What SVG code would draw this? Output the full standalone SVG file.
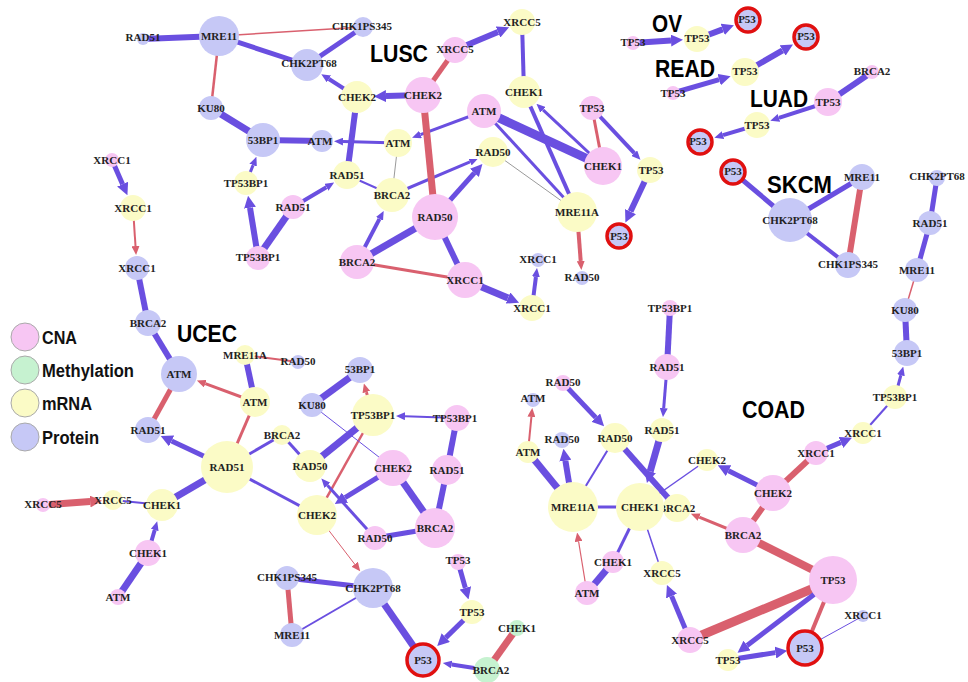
<svg xmlns="http://www.w3.org/2000/svg" width="968" height="682" viewBox="0 0 968 682">
<style>
.b{stroke:#6a4fe0;fill:none}
.r{stroke:#d9606e;fill:none}
.g{stroke:#9a9a9a;fill:none}
.C{fill:#f7c6f3}
.M{fill:#fbfbc6}
.P{fill:#c6c8f6}
.Me{fill:#c6f2d0}
.ring{stroke:#e01010;stroke-width:3.5}
.l{font-family:"Liberation Serif",serif;font-weight:bold;font-size:11px;fill:#222;text-anchor:middle}
.t{font-family:"Liberation Sans",Arial,sans-serif;font-weight:bold;font-size:24px;fill:#000}
.lg{font-family:"Liberation Sans",Arial,sans-serif;font-weight:bold;font-size:18px;fill:#111}
.lc{stroke:#aaa;stroke-width:1}
</style>
<defs>
<marker id="ab" markerUnits="userSpaceOnUse" markerWidth="9" markerHeight="8" refX="0" refY="4" orient="auto"><path d="M0,0L9,4L0,8z" fill="#6a4fe0"/></marker>
<marker id="abL" markerUnits="userSpaceOnUse" markerWidth="12" markerHeight="12" refX="0" refY="6" orient="auto"><path d="M0,0L12,6L0,12z" fill="#6a4fe0"/></marker>
<marker id="ar" markerUnits="userSpaceOnUse" markerWidth="9" markerHeight="8" refX="0" refY="4" orient="auto"><path d="M0,0L9,4L0,8z" fill="#d9606e"/></marker>
<marker id="arL" markerUnits="userSpaceOnUse" markerWidth="12" markerHeight="12" refX="0" refY="6" orient="auto"><path d="M0,0L12,6L0,12z" fill="#d9606e"/></marker>
</defs>
<rect width="968" height="682" fill="#fff"/>

<g id="connectors">
<!-- LUSC -->
<line x1="143" y1="39" x2="219" y2="36" class="b" stroke-width="6"/>
<line x1="219" y1="36" x2="363" y2="27" class="r" stroke-width="1.5"/>
<line x1="219" y1="36" x2="307" y2="65" class="b" stroke-width="5"/>
<line x1="307" y1="65" x2="363" y2="27" class="b" stroke-width="5"/>
<line x1="357" y1="97" x2="328.9" y2="79" class="b" stroke-width="4" marker-end="url(#ab)"/>
<line x1="219" y1="36" x2="211" y2="108" class="r" stroke-width="2.5"/>
<line x1="211" y1="108" x2="263" y2="140" class="b" stroke-width="7"/>
<line x1="263" y1="140" x2="322" y2="141" class="b" stroke-width="6"/>
<line x1="398" y1="143" x2="343" y2="141.6" class="b" stroke-width="3" marker-end="url(#ab)"/>
<line x1="246" y1="183" x2="253.1" y2="165.1" class="b" stroke-width="3" marker-end="url(#ab)"/>
<line x1="258" y1="257" x2="250" y2="207.7" class="b" stroke-width="6" marker-end="url(#abL)"/>
<line x1="258" y1="257" x2="293" y2="207" class="b" stroke-width="7"/>
<line x1="293" y1="207" x2="326.4" y2="187.2" class="b" stroke-width="4" marker-end="url(#ab)"/>
<line x1="423" y1="95" x2="386" y2="96.1" class="b" stroke-width="6" marker-end="url(#abL)"/>
<line x1="357" y1="97" x2="347" y2="175" class="b" stroke-width="6"/>
<line x1="347" y1="175" x2="392" y2="195" class="b" stroke-width="2"/>
<line x1="398" y1="143" x2="392" y2="195" class="g" stroke-width="1"/>
<line x1="484" y1="111" x2="420.5" y2="134.6" class="b" stroke-width="3" marker-end="url(#ab)"/>
<line x1="392" y1="195" x2="470" y2="161.8" class="b" stroke-width="3" marker-end="url(#ab)"/>
<line x1="423" y1="95" x2="435" y2="217" class="r" stroke-width="7"/>
<line x1="435" y1="217" x2="474.4" y2="172.9" class="b" stroke-width="5" marker-end="url(#abL)"/>
<line x1="357" y1="262" x2="379.5" y2="218.9" class="b" stroke-width="4" marker-end="url(#ab)"/>
<line x1="357" y1="262" x2="435" y2="217" class="b" stroke-width="7"/>
<line x1="357" y1="262" x2="465" y2="280" class="r" stroke-width="3"/>
<line x1="435" y1="217" x2="465" y2="280" class="b" stroke-width="6"/>
<line x1="465" y1="280" x2="508" y2="298" class="b" stroke-width="7" marker-end="url(#abL)"/>
<line x1="532" y1="308" x2="535.9" y2="276.9" class="b" stroke-width="4" marker-end="url(#ab)"/>
<line x1="455" y1="50" x2="423" y2="95" class="r" stroke-width="5"/>
<line x1="455" y1="50" x2="498" y2="32" class="b" stroke-width="6" marker-end="url(#abL)"/>
<line x1="522" y1="22" x2="524" y2="92" class="b" stroke-width="4"/>
<line x1="484" y1="111" x2="603" y2="166" class="b" stroke-width="9"/>
<line x1="603" y1="166" x2="543" y2="109.8" class="b" stroke-width="3" marker-end="url(#ab)"/>
<line x1="524" y1="92" x2="577" y2="212" class="b" stroke-width="4"/>
<line x1="484" y1="111" x2="577" y2="212" class="b" stroke-width="3"/>
<line x1="493" y1="152" x2="577" y2="212" class="g" stroke-width="1"/>
<line x1="577" y1="212" x2="580.7" y2="261" class="r" stroke-width="4" marker-end="url(#ar)"/>
<line x1="592" y1="108" x2="603" y2="166" class="r" stroke-width="3"/>
<line x1="592" y1="108" x2="634.3" y2="153.2" class="b" stroke-width="4" marker-end="url(#ab)"/>
<line x1="650" y1="170" x2="630.5" y2="211.6" class="b" stroke-width="6" marker-end="url(#abL)"/>
<!-- OV READ LUAD SKCM -->
<line x1="633" y1="43" x2="671" y2="40.6" class="b" stroke-width="6" marker-end="url(#abL)"/>
<line x1="697" y1="39" x2="722.7" y2="29.4" class="b" stroke-width="6" marker-end="url(#abL)"/>
<line x1="673" y1="93" x2="719.1" y2="79.6" class="b" stroke-width="5" marker-end="url(#abL)"/>
<line x1="745" y1="72" x2="782.6" y2="50.4" class="b" stroke-width="6" marker-end="url(#abL)"/>
<line x1="872" y1="72" x2="828" y2="102" class="b" stroke-width="6"/>
<line x1="828" y1="102" x2="778.9" y2="117.9" class="b" stroke-width="4" marker-end="url(#ab)"/>
<line x1="757" y1="125" x2="723" y2="135.1" class="b" stroke-width="4" marker-end="url(#ab)"/>
<line x1="790" y1="220" x2="733" y2="172" class="b" stroke-width="5"/>
<line x1="790" y1="220" x2="862" y2="177" class="b" stroke-width="5"/>
<line x1="790" y1="220" x2="848" y2="265" class="b" stroke-width="4"/>
<line x1="862" y1="177" x2="848" y2="265" class="r" stroke-width="6"/>
<!-- COAD -->
<line x1="937" y1="178" x2="930" y2="223" class="b" stroke-width="5"/>
<line x1="930" y1="223" x2="917" y2="270" class="b" stroke-width="5"/>
<line x1="917" y1="270" x2="905" y2="310" class="r" stroke-width="1.5"/>
<line x1="905" y1="310" x2="907" y2="353" class="b" stroke-width="6"/>
<line x1="895" y1="397" x2="900.9" y2="375.2" class="b" stroke-width="3" marker-end="url(#ab)"/>
<line x1="863" y1="433" x2="895" y2="397" class="b" stroke-width="2"/>
<line x1="816" y1="453" x2="840.9" y2="442.4" class="b" stroke-width="5" marker-end="url(#abL)"/>
<line x1="816" y1="453" x2="773" y2="493" class="r" stroke-width="6"/>
<line x1="773" y1="493" x2="728.5" y2="470.7" class="b" stroke-width="5" marker-end="url(#abL)"/>
<line x1="773" y1="493" x2="743" y2="535" class="r" stroke-width="6"/>
<line x1="743" y1="535" x2="699.2" y2="517.1" class="r" stroke-width="3" marker-end="url(#ar)"/>
<line x1="743" y1="535" x2="833" y2="580" class="r" stroke-width="8"/>
<line x1="833" y1="580" x2="690" y2="640" class="r" stroke-width="9"/>
<line x1="690" y1="640" x2="671.6" y2="596.1" class="b" stroke-width="5" marker-end="url(#abL)"/>
<line x1="640" y1="507" x2="662" y2="573" class="b" stroke-width="1.5"/>
<line x1="833" y1="580" x2="747.1" y2="645.5" class="b" stroke-width="5" marker-end="url(#abL)"/>
<line x1="728" y1="660" x2="775.4" y2="652.6" class="b" stroke-width="5" marker-end="url(#abL)"/>
<line x1="833" y1="580" x2="805" y2="648" class="r" stroke-width="4"/>
<line x1="863" y1="616" x2="805" y2="648" class="b" stroke-width="1"/>
<line x1="670" y1="308" x2="667" y2="367" class="b" stroke-width="6"/>
<line x1="667" y1="367" x2="663.7" y2="408.1" class="b" stroke-width="3" marker-end="url(#ab)"/>
<line x1="662" y1="430" x2="650.2" y2="471.4" class="b" stroke-width="7" marker-end="url(#abL)"/>
<line x1="563" y1="383" x2="595.8" y2="417.6" class="b" stroke-width="5" marker-end="url(#abL)"/>
<line x1="615" y1="438" x2="677" y2="508" class="b" stroke-width="6"/>
<line x1="615" y1="438" x2="573" y2="507" class="b" stroke-width="2"/>
<line x1="707" y1="460" x2="640" y2="507" class="b" stroke-width="1.5"/>
<line x1="573" y1="507" x2="640" y2="507" class="b" stroke-width="3"/>
<line x1="528" y1="452" x2="531.4" y2="416.9" class="r" stroke-width="2" marker-end="url(#ar)"/>
<line x1="528" y1="452" x2="573" y2="507" class="b" stroke-width="7"/>
<line x1="573" y1="507" x2="565.4" y2="460.7" class="b" stroke-width="6" marker-end="url(#abL)"/>
<line x1="613" y1="562" x2="640" y2="507" class="b" stroke-width="3"/>
<line x1="587" y1="593" x2="613" y2="562" class="b" stroke-width="7"/>
<line x1="587" y1="593" x2="578.6" y2="541.5" class="r" stroke-width="1.2" marker-end="url(#ar)"/>
<!-- UCEC -->
<line x1="112" y1="160" x2="122.6" y2="184.2" class="b" stroke-width="5" marker-end="url(#abL)"/>
<line x1="133" y1="208" x2="135.5" y2="246" class="r" stroke-width="2" marker-end="url(#ar)"/>
<line x1="137" y1="268" x2="148" y2="323" class="b" stroke-width="6"/>
<line x1="148" y1="323" x2="179" y2="374" class="b" stroke-width="6"/>
<line x1="255" y1="402" x2="205.3" y2="383.7" class="r" stroke-width="3" marker-end="url(#ar)"/>
<line x1="179" y1="374" x2="148" y2="430" class="r" stroke-width="5"/>
<line x1="245" y1="355" x2="298" y2="362" class="r" stroke-width="2"/>
<line x1="245" y1="355" x2="255" y2="402" class="b" stroke-width="6"/>
<line x1="255" y1="402" x2="227" y2="467" class="r" stroke-width="3"/>
<line x1="227" y1="467" x2="171.6" y2="441" class="b" stroke-width="5" marker-end="url(#abL)"/>
<line x1="227" y1="467" x2="282" y2="435" class="b" stroke-width="3"/>
<line x1="282" y1="435" x2="310" y2="466" class="b" stroke-width="3"/>
<line x1="227" y1="467" x2="317" y2="515" class="b" stroke-width="3"/>
<line x1="227" y1="467" x2="162" y2="505" class="b" stroke-width="7"/>
<line x1="162" y1="505" x2="113" y2="500" class="b" stroke-width="2"/>
<line x1="43" y1="505" x2="90.1" y2="501.6" class="r" stroke-width="7" marker-end="url(#arL)"/>
<line x1="148" y1="553" x2="154.7" y2="530" class="b" stroke-width="4" marker-end="url(#ab)"/>
<line x1="118" y1="597" x2="148" y2="553" class="b" stroke-width="7"/>
<line x1="312" y1="405" x2="360" y2="370" class="b" stroke-width="7"/>
<line x1="373" y1="415" x2="366.4" y2="392.1" class="r" stroke-width="3" marker-end="url(#ar)"/>
<line x1="457" y1="418" x2="405" y2="416.2" class="b" stroke-width="2" marker-end="url(#ab)"/>
<line x1="457" y1="418" x2="447" y2="470" class="b" stroke-width="6"/>
<line x1="447" y1="470" x2="435" y2="528" class="b" stroke-width="6"/>
<line x1="393" y1="468" x2="435" y2="528" class="b" stroke-width="7"/>
<line x1="393" y1="468" x2="345" y2="497.6" class="b" stroke-width="5" marker-end="url(#abL)"/>
<line x1="310" y1="466" x2="373" y2="415" class="b" stroke-width="7"/>
<line x1="373" y1="415" x2="317" y2="515" class="r" stroke-width="2.5"/>
<line x1="312" y1="405" x2="393" y2="468" class="b" stroke-width="1"/>
<line x1="375" y1="538" x2="327.4" y2="485.3" class="b" stroke-width="3" marker-end="url(#ab)"/>
<line x1="375" y1="538" x2="435" y2="528" class="b" stroke-width="5"/>
<line x1="317" y1="515" x2="354.7" y2="564.2" class="r" stroke-width="1" marker-end="url(#ar)"/>
<line x1="287" y1="578" x2="373" y2="588" class="b" stroke-width="5"/>
<line x1="287" y1="578" x2="292" y2="635" class="r" stroke-width="5"/>
<line x1="292" y1="635" x2="373" y2="588" class="b" stroke-width="2"/>
<line x1="373" y1="588" x2="423" y2="660" class="b" stroke-width="7"/>
<line x1="458" y1="562" x2="465.3" y2="587.9" class="b" stroke-width="5" marker-end="url(#abL)"/>
<line x1="472" y1="612" x2="445.8" y2="637.6" class="b" stroke-width="5" marker-end="url(#abL)"/>
<line x1="487" y1="670" x2="451.7" y2="664.5" class="b" stroke-width="4" marker-end="url(#ab)"/>
<line x1="517" y1="628" x2="487" y2="670" class="r" stroke-width="7"/>
</g>

<g id="nodes">
<!-- LUSC -->
<g id="lusc-rad51-p"><circle class="P" cx="143" cy="39" r="6"/><text class="l" x="143" y="41">RAD51</text></g>
<g id="lusc-mre11-p"><circle class="P" cx="219" cy="36" r="20"/><text class="l" x="219" y="40">MRE11</text></g>
<g id="lusc-chk2pt68-p"><circle class="P" cx="307" cy="65" r="16"/><text class="l" x="309" y="67">CHK2PT68</text></g>
<g id="lusc-chk1ps345-p"><circle class="P" cx="363" cy="27" r="10"/><text class="l" x="362" y="30">CHK1PS345</text></g>
<g id="lusc-ku80-p"><circle class="P" cx="211" cy="108" r="12"/><text class="l" x="211" y="112">KU80</text></g>
<g id="lusc-53bp1-p"><circle class="P" cx="263" cy="140" r="17"/><text class="l" x="263" y="144">53BP1</text></g>
<g id="lusc-atm-p"><circle class="P" cx="322" cy="141" r="11"/><text class="l" x="320" y="145">ATM</text></g>
<g id="lusc-tp53bp1-m"><circle class="M" cx="246" cy="183" r="12"/><text class="l" x="246" y="187">TP53BP1</text></g>
<g id="lusc-rad51-c"><circle class="C" cx="293" cy="207" r="12"/><text class="l" x="293" y="211">RAD51</text></g>
<g id="lusc-tp53bp1-c"><circle class="C" cx="258" cy="258" r="12"/><text class="l" x="258" y="261">TP53BP1</text></g>
<g id="lusc-rad51-m"><circle class="M" cx="347" cy="175" r="14"/><text class="l" x="347" y="179">RAD51</text></g>
<g id="lusc-chek2-m"><circle class="M" cx="357" cy="97" r="16"/><text class="l" x="357" y="101">CHEK2</text></g>
<g id="lusc-chek2-c"><circle class="C" cx="423" cy="95" r="18"/><text class="l" x="423" y="99">CHEK2</text></g>
<g id="lusc-atm-m"><circle class="M" cx="398" cy="143" r="14"/><text class="l" x="398" y="147">ATM</text></g>
<g id="lusc-atm-c"><circle class="C" cx="484" cy="111" r="17"/><text class="l" x="484" y="115">ATM</text></g>
<g id="lusc-brca2-m"><circle class="M" cx="392" cy="195" r="17"/><text class="l" x="392" y="199">BRCA2</text></g>
<g id="lusc-rad50-m"><circle class="M" cx="493" cy="152" r="15"/><text class="l" x="493" y="156">RAD50</text></g>
<g id="lusc-rad50-c"><circle class="C" cx="435" cy="217" r="23"/><text class="l" x="435" y="221">RAD50</text></g>
<g id="lusc-brca2-c"><circle class="C" cx="357" cy="262" r="17"/><text class="l" x="357" y="266">BRCA2</text></g>
<g id="lusc-xrcc1-c"><circle class="C" cx="465" cy="280" r="18"/><text class="l" x="465" y="284">XRCC1</text></g>
<g id="lusc-xrcc1-m"><circle class="M" cx="532" cy="308" r="13"/><text class="l" x="532" y="312">XRCC1</text></g>
<g id="lusc-xrcc1-p"><circle class="P" cx="538" cy="260" r="7"/><text class="l" x="538" y="263">XRCC1</text></g>
<g id="lusc-xrcc5-c"><circle class="C" cx="455" cy="50" r="13"/><text class="l" x="455" y="53">XRCC5</text></g>
<g id="lusc-xrcc5-m"><circle class="M" cx="522" cy="22" r="13"/><text class="l" x="522" y="26">XRCC5</text></g>
<g id="lusc-chek1-m"><circle class="M" cx="524" cy="92" r="16"/><text class="l" x="524" y="96">CHEK1</text></g>
<g id="lusc-chek1-c"><circle class="C" cx="603" cy="166" r="19"/><text class="l" x="603" y="170">CHEK1</text></g>
<g id="lusc-mre11a-m"><circle class="M" cx="577" cy="212" r="20"/><text class="l" x="577" y="216">MRE11A</text></g>
<g id="lusc-rad50-p"><circle class="P" cx="582" cy="278" r="7"/><text class="l" x="582" y="281">RAD50</text></g>
<g id="lusc-tp53-c"><circle class="C" cx="592" cy="108" r="12"/><text class="l" x="592" y="112">TP53</text></g>
<g id="lusc-tp53-m"><circle class="M" cx="650" cy="170" r="13"/><text class="l" x="651" y="174">TP53</text></g>
<g id="lusc-p53-p"><circle class="P ring" cx="619" cy="236" r="12"/><text class="l" x="619" y="240">P53</text></g>
<!-- OV -->
<g id="ov-tp53-c"><circle class="C" cx="633" cy="43" r="7"/><text class="l" x="633" y="46">TP53</text></g>
<g id="ov-tp53-m"><circle class="M" cx="697" cy="39" r="13"/><text class="l" x="697" y="42">TP53</text></g>
<g id="ov-p53-p"><circle class="P ring" cx="748" cy="20" r="12"/><text class="l" x="747" y="23">P53</text></g>
<!-- READ -->
<g id="read-tp53-c"><circle class="C" cx="673" cy="93" r="7"/><text class="l" x="673" y="97">TP53</text></g>
<g id="read-tp53-m"><circle class="M" cx="745" cy="72" r="14"/><text class="l" x="745" y="75">TP53</text></g>
<g id="read-p53-p"><circle class="P ring" cx="806" cy="37" r="12"/><text class="l" x="806" y="40">P53</text></g>
<!-- LUAD -->
<g id="luad-brca2-c"><circle class="C" cx="872" cy="72" r="7"/><text class="l" x="872" y="75">BRCA2</text></g>
<g id="luad-tp53-c"><circle class="C" cx="828" cy="102" r="14"/><text class="l" x="828" y="106">TP53</text></g>
<g id="luad-tp53-m"><circle class="M" cx="757" cy="125" r="13"/><text class="l" x="757" y="129">TP53</text></g>
<g id="luad-p53-p"><circle class="P ring" cx="700" cy="142" r="12"/><text class="l" x="698" y="145">P53</text></g>
<!-- SKCM -->
<g id="skcm-p53-p"><circle class="P ring" cx="733" cy="172" r="12"/><text class="l" x="733" y="175">P53</text></g>
<g id="skcm-chk2pt68-p"><circle class="P" cx="790" cy="220" r="22"/><text class="l" x="790" y="224">CHK2PT68</text></g>
<g id="skcm-mre11-p"><circle class="P" cx="862" cy="177" r="13"/><text class="l" x="862" y="181">MRE11</text></g>
<g id="skcm-chk1ps345-p"><circle class="P" cx="848" cy="265" r="13"/><text class="l" x="848" y="268">CHK1PS345</text></g>
<!-- COAD -->
<g id="coad-chk2pt68-p"><circle class="P" cx="937" cy="178" r="8"/><text class="l" x="937" y="180">CHK2PT68</text></g>
<g id="coad-rad51-p"><circle class="P" cx="930" cy="223" r="12"/><text class="l" x="930" y="227">RAD51</text></g>
<g id="coad-mre11-p"><circle class="P" cx="917" cy="270" r="12"/><text class="l" x="917" y="274">MRE11</text></g>
<g id="coad-ku80-p"><circle class="P" cx="905" cy="310" r="12"/><text class="l" x="905" y="314">KU80</text></g>
<g id="coad-53bp1-p"><circle class="P" cx="907" cy="353" r="13"/><text class="l" x="907" y="357">53BP1</text></g>
<g id="coad-tp53bp1-m"><circle class="M" cx="895" cy="397" r="12"/><text class="l" x="895" y="401">TP53BP1</text></g>
<g id="coad-xrcc1-m"><circle class="M" cx="863" cy="433" r="11"/><text class="l" x="863" y="437">XRCC1</text></g>
<g id="coad-xrcc1-c"><circle class="C" cx="816" cy="453" r="12"/><text class="l" x="816" y="457">XRCC1</text></g>
<g id="coad-chek2-m"><circle class="M" cx="707" cy="460" r="11"/><text class="l" x="707" y="464">CHEK2</text></g>
<g id="coad-chek2-c"><circle class="C" cx="773" cy="493" r="18"/><text class="l" x="773" y="497">CHEK2</text></g>
<g id="coad-brca2-m"><circle class="M" cx="677" cy="508" r="14"/><text class="l" x="677" y="512">BRCA2</text></g>
<g id="coad-brca2-c"><circle class="C" cx="743" cy="535" r="18"/><text class="l" x="743" y="539">BRCA2</text></g>
<g id="coad-tp53-c"><circle class="C" cx="833" cy="580" r="24"/><text class="l" x="833" y="584">TP53</text></g>
<g id="coad-xrcc5-c"><circle class="C" cx="690" cy="640" r="13"/><text class="l" x="690" y="644">XRCC5</text></g>
<g id="coad-xrcc5-m"><circle class="M" cx="662" cy="573" r="12"/><text class="l" x="662" y="577">XRCC5</text></g>
<g id="coad-tp53-m"><circle class="M" cx="728" cy="660" r="11"/><text class="l" x="728" y="664">TP53</text></g>
<g id="coad-p53-p"><circle class="P ring" cx="805" cy="648" r="17"/><text class="l" x="805" y="652">P53</text></g>
<g id="coad-xrcc1-p"><circle class="P" cx="863" cy="616" r="6"/><text class="l" x="863" y="619">XRCC1</text></g>
<g id="coad-tp53bp1-c"><circle class="C" cx="670" cy="308" r="8"/><text class="l" x="670" y="312">TP53BP1</text></g>
<g id="coad-rad51-c"><circle class="C" cx="667" cy="367" r="13"/><text class="l" x="667" y="371">RAD51</text></g>
<g id="coad-rad51-m"><circle class="M" cx="662" cy="430" r="12"/><text class="l" x="662" y="434">RAD51</text></g>
<g id="coad-chek1-m"><circle class="M" cx="640" cy="507" r="24"/><text class="l" x="640" y="511">CHEK1</text></g>
<g id="coad-rad50-c"><circle class="C" cx="563" cy="383" r="8"/><text class="l" x="563" y="386">RAD50</text></g>
<g id="coad-rad50-m"><circle class="M" cx="615" cy="438" r="15"/><text class="l" x="615" y="442">RAD50</text></g>
<g id="coad-mre11a-m"><circle class="M" cx="573" cy="507" r="25"/><text class="l" x="573" y="511">MRE11A</text></g>
<g id="coad-atm-p"><circle class="P" cx="533" cy="400" r="7"/><text class="l" x="533" y="402">ATM</text></g>
<g id="coad-atm-m"><circle class="M" cx="528" cy="452" r="11"/><text class="l" x="528" y="456">ATM</text></g>
<g id="coad-rad50-p"><circle class="P" cx="562" cy="440" r="8"/><text class="l" x="562" y="443">RAD50</text></g>
<g id="coad-chek1-c"><circle class="C" cx="613" cy="562" r="11"/><text class="l" x="613" y="566">CHEK1</text></g>
<g id="coad-atm-c"><circle class="C" cx="587" cy="593" r="12"/><text class="l" x="587" y="597">ATM</text></g>
<!-- UCEC -->
<g id="ucec-xrcc1-c"><circle class="C" cx="112" cy="160" r="7"/><text class="l" x="112" y="164">XRCC1</text></g>
<g id="ucec-xrcc1-m"><circle class="M" cx="133" cy="208" r="13"/><text class="l" x="133" y="212">XRCC1</text></g>
<g id="ucec-xrcc1-p"><circle class="P" cx="137" cy="268" r="12"/><text class="l" x="137" y="272">XRCC1</text></g>
<g id="ucec-brca2-p"><circle class="P" cx="148" cy="323" r="13"/><text class="l" x="148" y="327">BRCA2</text></g>
<g id="ucec-atm-p"><circle class="P" cx="179" cy="374" r="18"/><text class="l" x="179" y="378">ATM</text></g>
<g id="ucec-atm-m"><circle class="M" cx="255" cy="402" r="15"/><text class="l" x="255" y="406">ATM</text></g>
<g id="ucec-rad51-p"><circle class="P" cx="148" cy="430" r="13"/><text class="l" x="148" y="434">RAD51</text></g>
<g id="ucec-mre11a-m"><circle class="M" cx="245" cy="355" r="10"/><text class="l" x="245" y="359">MRE11A</text></g>
<g id="ucec-rad50-p"><circle class="P" cx="298" cy="362" r="7"/><text class="l" x="298" y="365">RAD50</text></g>
<g id="ucec-rad51-m"><circle class="M" cx="227" cy="467" r="26"/><text class="l" x="227" y="471">RAD51</text></g>
<g id="ucec-brca2-m"><circle class="M" cx="282" cy="435" r="10"/><text class="l" x="282" y="439">BRCA2</text></g>
<g id="ucec-rad50-m"><circle class="M" cx="310" cy="466" r="16"/><text class="l" x="310" y="470">RAD50</text></g>
<g id="ucec-chek2-m"><circle class="M" cx="317" cy="515" r="20"/><text class="l" x="317" y="519">CHEK2</text></g>
<g id="ucec-chek1-m"><circle class="M" cx="162" cy="505" r="16"/><text class="l" x="162" y="509">CHEK1</text></g>
<g id="ucec-xrcc5-m"><circle class="M" cx="113" cy="500" r="10"/><text class="l" x="113" y="504">XRCC5</text></g>
<g id="ucec-xrcc5-c"><circle class="C" cx="43" cy="505" r="7"/><text class="l" x="43" y="508">XRCC5</text></g>
<g id="ucec-chek1-c"><circle class="C" cx="148" cy="553" r="13"/><text class="l" x="148" y="557">CHEK1</text></g>
<g id="ucec-atm-c"><circle class="C" cx="118" cy="597" r="8"/><text class="l" x="118" y="601">ATM</text></g>
<g id="ucec-ku80-p"><circle class="P" cx="312" cy="405" r="12"/><text class="l" x="312" y="409">KU80</text></g>
<g id="ucec-53bp1-p"><circle class="P" cx="360" cy="370" r="13"/><text class="l" x="360" y="373">53BP1</text></g>
<g id="ucec-tp53bp1-m"><circle class="M" cx="373" cy="415" r="21"/><text class="l" x="373" y="419">TP53BP1</text></g>
<g id="ucec-tp53bp1-c"><circle class="C" cx="457" cy="418" r="13"/><text class="l" x="455" y="422">TP53BP1</text></g>
<g id="ucec-rad51-c"><circle class="C" cx="447" cy="470" r="15"/><text class="l" x="447" y="474">RAD51</text></g>
<g id="ucec-brca2-c"><circle class="C" cx="435" cy="528" r="20"/><text class="l" x="435" y="532">BRCA2</text></g>
<g id="ucec-chek2-c"><circle class="C" cx="393" cy="468" r="18"/><text class="l" x="393" y="472">CHEK2</text></g>
<g id="ucec-rad50-c"><circle class="C" cx="375" cy="538" r="12"/><text class="l" x="375" y="542">RAD50</text></g>
<g id="ucec-chk2pt68-p"><circle class="P" cx="373" cy="588" r="20"/><text class="l" x="373" y="592">CHK2PT68</text></g>
<g id="ucec-chk1ps345-p"><circle class="P" cx="287" cy="578" r="12"/><text class="l" x="287" y="581">CHK1PS345</text></g>
<g id="ucec-mre11-p"><circle class="P" cx="292" cy="635" r="12"/><text class="l" x="292" y="639">MRE11</text></g>
<g id="ucec-p53-p"><circle class="P ring" cx="423" cy="660" r="16"/><text class="l" x="423" y="664">P53</text></g>
<g id="ucec-tp53-c"><circle class="C" cx="458" cy="562" r="8"/><text class="l" x="458" y="564">TP53</text></g>
<g id="ucec-tp53-m"><circle class="M" cx="472" cy="612" r="12"/><text class="l" x="472" y="616">TP53</text></g>
<g id="ucec-brca2-me"><circle class="Me" cx="487" cy="670" r="13"/><text class="l" x="491" y="674">BRCA2</text></g>
<g id="ucec-chek1-me"><circle class="Me" cx="517" cy="628" r="8"/><text class="l" x="517" y="632">CHEK1</text></g>
</g>

<g id="labels">
<text class="t" x="370" y="62" textLength="58" lengthAdjust="spacingAndGlyphs">LUSC</text>
<text class="t" x="652" y="32" textLength="30" lengthAdjust="spacingAndGlyphs">OV</text>
<text class="t" x="655" y="77" textLength="60" lengthAdjust="spacingAndGlyphs">READ</text>
<text class="t" x="750" y="107" textLength="58" lengthAdjust="spacingAndGlyphs">LUAD</text>
<text class="t" x="767" y="193" textLength="65" lengthAdjust="spacingAndGlyphs">SKCM</text>
<text class="t" x="177" y="342" textLength="60" lengthAdjust="spacingAndGlyphs">UCEC</text>
<text class="t" x="742" y="418" textLength="63" lengthAdjust="spacingAndGlyphs">COAD</text>
</g>

<g id="legend">
<circle class="C lc" cx="25" cy="337" r="14"/>
<circle class="Me lc" cx="25" cy="370" r="14"/>
<circle class="M lc" cx="25" cy="403" r="14"/>
<circle class="P lc" cx="25" cy="437" r="14"/>
<text class="lg" x="42" y="344" textLength="35" lengthAdjust="spacingAndGlyphs">CNA</text>
<text class="lg" x="42" y="377" textLength="92" lengthAdjust="spacingAndGlyphs">Methylation</text>
<text class="lg" x="42" y="410" textLength="50" lengthAdjust="spacingAndGlyphs">mRNA</text>
<text class="lg" x="42" y="444" textLength="57" lengthAdjust="spacingAndGlyphs">Protein</text>
</g>
</svg>
